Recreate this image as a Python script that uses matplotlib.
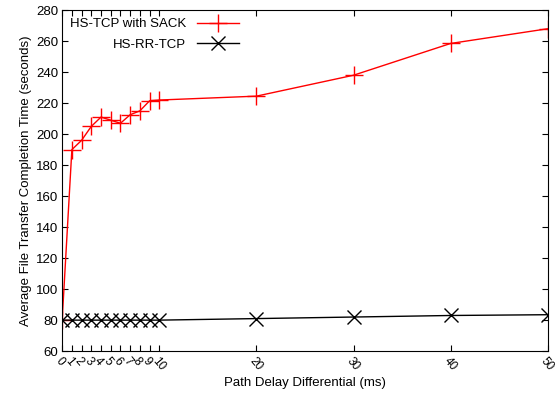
import matplotlib
matplotlib.use("Agg")
import matplotlib.pyplot as plt

plt.rcParams.update({"font.family": ["Liberation Sans", "DejaVu Sans"], "font.size": 9.5})

delay = [0, 1, 2, 3, 4, 5, 6, 7, 8, 9, 10, 20, 30, 40, 50]
sack = [80, 190, 196, 205, 211, 209, 207, 212.5, 215, 221.5, 222, 224.5, 238, 258.5, 268]
rr = [80, 80, 80, 80, 80, 80, 80, 80, 80, 80, 80, 81, 82, 83, 83.5]
yticks = list(range(60, 281, 20))

fig = plt.figure(figsize=(5.55, 4.05), dpi=100)
ax = fig.add_axes([0.112, 0.133, 0.875, 0.842])
ax.plot(delay, sack, color="red", lw=1, marker="+", ms=13, mew=1, label="HS-TCP with SACK")
ax.plot(delay, rr, color="black", lw=1, marker="x", ms=10, mew=1, label="HS-RR-TCP")

ax.set_xlim(0, 50); ax.set_ylim(60, 280)
ax.set_xticks(delay)
ax.set_xticklabels([str(d) for d in delay], rotation=-50, ha="left", va="top",
                   rotation_mode="anchor", fontsize=8.5)
ax.set_yticks(yticks)
ax.tick_params(direction="in", top=True, right=True, length=4, width=0.8, pad=3)
ax.set_xlabel("Path Delay Differential (ms)", labelpad=3)
ax.set_ylabel("Average File Transfer Completion Time (seconds)", labelpad=3)
ax.legend(loc="upper left", frameon=False, markerfirst=False, handlelength=3.2, borderaxespad=0.2,
          labelspacing=0.65, handletextpad=0.8)
fig.savefig("out.png")
